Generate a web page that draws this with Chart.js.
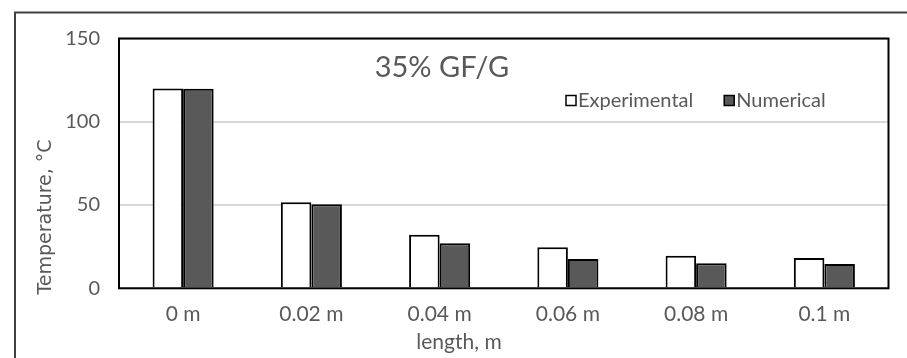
<!DOCTYPE html>
<html>
<head>
<meta charset="utf-8">
<script src="https://cdn.jsdelivr.net/npm/chart.js@4/dist/chart.umd.min.js"></script>
<style>
  html, body { margin: 0; padding: 0; background: #fff; overflow: hidden; }
  #wrap { width: 907px; height: 358px; position: relative; }
</style>
</head>
<body>
<div id="wrap"><canvas id="grafico" width="907" height="358"></canvas></div>
<script>
// values
var categories = ['0 m', '0.02 m', '0.04 m', '0.06 m', '0.08 m', '0.1 m'];
var experimental = [120, 51.6, 32.2, 24.6, 19.6, 18.2];
var numerical = [119.8, 50.4, 27.0, 17.6, 15.0, 14.6];
var yTicks = [0, 50, 100, 150];
var chartTitle = '35% GF/G';
var xTitle = 'length, m';
var yTitle = 'Temperature, \u00b0C';

var textColor = '#595959';
var mainFont = 'Lato';

// frame, plot border, title, legend and axis titles
var decor = {
    id: 'decor',
    beforeDraw: function (chart) {
        var ctx = chart.ctx;
        ctx.save();
        ctx.strokeStyle = '#404040';
        ctx.lineWidth = 2;
        ctx.strokeRect(15, 12.5, 1000, 1000);
        ctx.restore();
    },
    afterDatasetsDraw: function (chart) {
        var a = chart.chartArea;
        var ctx = chart.ctx;
        ctx.save();
        ctx.strokeStyle = '#000';
        ctx.lineWidth = 2;
        ctx.strokeRect(a.left, a.top, a.right - a.left, a.bottom - a.top);
        ctx.restore();
    },
    afterDraw: function (chart) {
        var ctx = chart.ctx;
        ctx.save();
        ctx.fillStyle = textColor;
        ctx.textBaseline = 'middle';

        // chart title inside the plot
        ctx.font = '29px ' + mainFont;
        ctx.textAlign = 'center';
        ctx.fillText(chartTitle, 442, 68);

        // legend
        ctx.font = '20px ' + mainFont;
        ctx.textAlign = 'left';
        var x = 566;
        chart.data.datasets.forEach(function (ds) {
            ctx.fillStyle = ds.backgroundColor;
            ctx.fillRect(x, 95.5, 10, 10);
            ctx.strokeStyle = '#000';
            ctx.lineWidth = 1.5;
            ctx.strokeRect(x, 95.5, 10, 10);
            ctx.fillStyle = textColor;
            ctx.fillText(ds.label, x + 12, 100.5);
            x += 12 + ctx.measureText(ds.label).width + 31;
        });

        // x title
        ctx.font = '21px ' + mainFont;
        ctx.textAlign = 'center';
        ctx.fillText(xTitle, 459, 342);

        // y title
        ctx.translate(46, 217);
        ctx.rotate(-Math.PI / 2);
        ctx.font = '19px "DejaVu Sans"';
        ctx.fillText(yTitle, 0, 0);
        ctx.restore();
    }
};

var grafico = document.getElementById('grafico').getContext('2d');
var chart = new Chart(grafico, {
    type: 'bar',
    data: {
        labels: categories,
        datasets: [
            {
                label: 'Experimental',
                data: experimental,
                backgroundColor: '#ffffff',
                borderColor: '#000000',
                borderWidth: 2
            },
            {
                label: 'Numerical',
                data: numerical,
                backgroundColor: '#595959',
                borderColor: '#000000',
                borderWidth: 2
            }
        ]
    },
    options: {
        responsive: false,
        animation: false,
        layout: { padding: { top: 38.5, right: 18.5, left: 0, bottom: 0 } },
        datasets: { bar: { categoryPercentage: 0.476, barPercentage: 1 } },
        plugins: {
            legend: { display: false },
            tooltip: { enabled: false }
        },
        scales: {
            x: {
                grid: { display: false },
                border: { display: false },
                ticks: {
                    color: textColor,
                    font: { family: mainFont, size: 21 },
                    padding: 5,
                    maxRotation: 0
                },
                afterFit: function (scale) { scale.height = 69.7; }
            },
            y: {
                min: 0,
                max: 150,
                afterBuildTicks: function (scale) {
                    scale.ticks = yTicks.map(function (v) { return { value: v }; });
                },
                grid: { color: '#d9d9d9', lineWidth: 2, drawTicks: false },
                border: { display: false },
                ticks: {
                    color: textColor,
                    font: { family: mainFont, size: 20 },
                    padding: 19
                },
                afterFit: function (scale) { scale.width = 119; }
            }
        }
    },
    plugins: [decor]
});
</script>
</body>
</html>
